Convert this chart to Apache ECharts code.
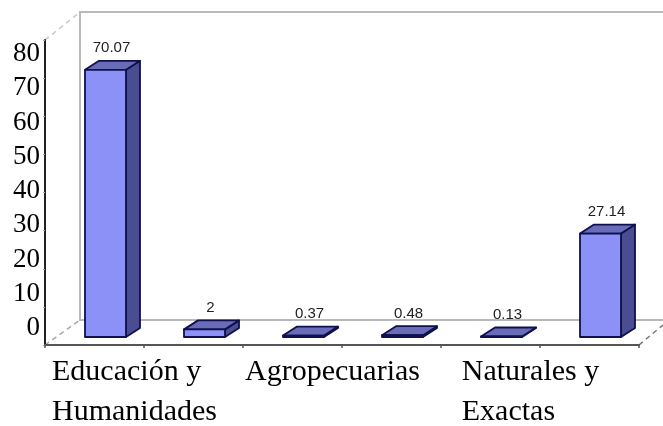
<!DOCTYPE html>
<html>
<head>
<meta charset="utf-8">
<style>html,body{margin:0;padding:0;background:#fff}#c{width:663px;height:426px}</style>
<script src="https://cdn.jsdelivr.net/npm/echarts@6/dist/echarts.min.js"></script>
</head>
<body>
<div id="c"></div>
<script>
const categories = ["Educación y\nHumanidades", "", "Agropecuarias", "", "Naturales y\nExactas", ""];
const values = [70.07, 2, 0.37, 0.48, 0.13, 27.14];
const valueLabels = ["70.07", "2", "0.37", "0.48", "0.13", "27.14"];
const tickLabels = [0, 10, 20, 30, 40, 50, 60, 70, 80];

const chart = echarts.init(document.getElementById('c'), null, {renderer: 'canvas'});
const FLOOR = [11, -8];   // bar set back from the front of the floor
const DEPTH = [14, -9];   // bar depth in the oblique projection
const BAR_W = 41;
const EDGE = '#10104f';

function poly(points, fill) {
  return {type: 'polygon', shape: {points}, style: {fill, stroke: EDGE, lineWidth: 1.8, lineJoin: 'round'}};
}
function renderBar(params, api) {
  const top = api.coord([api.value(0), api.value(1)]);
  const base = api.coord([api.value(0), 0]);
  const l = top[0] - BAR_W / 2 + FLOOR[0], r = l + BAR_W;
  const t = top[1] + FLOOR[1], b = base[1] + FLOOR[1];
  const dx = DEPTH[0], dy = DEPTH[1];
  return {type: 'group', children: [
    poly([[r, t], [r + dx, t + dy], [r + dx, b + dy], [r, b]], '#4a4d92'),
    poly([[l, t], [l + dx, t + dy], [r + dx, t + dy], [r, t]], '#696db8'),
    poly([[l, t], [r, t], [r, b], [l, b]], '#8b91f6'),
    {type: 'text', style: {
      text: valueLabels[params.dataIndex], x: (l + r) / 2 + dx / 2 - 1, y: t + dy - 5,
      align: 'center', verticalAlign: 'bottom',
      font: '15px "Liberation Sans", Arial, sans-serif', fill: '#222'
    }}
  ]};
}

const dashed = (x1, y1, x2, y2, color) => ({
  type: 'line', z: -1, shape: {x1, y1, x2, y2},
  style: {stroke: color, lineWidth: 1.5, lineDash: [5, 4]}
});

chart.setOption({
  animation: false,
  backgroundColor: '#fff',
  graphic: [
    dashed(45, 40, 80, 12, '#c8c8c8'),
    dashed(45, 345, 80, 320, '#a8a8a8'),
    dashed(639, 345, 663, 325, '#777')
  ],
  grid: [
    {left: 45, top: 40, width: 594, height: 305, outerBoundsMode: 'none'},
    {left: 45, top: 54, width: 594, height: 274, outerBoundsMode: 'none'},
    {show: true, left: 80, top: 12, width: 640, height: 308, borderColor: '#b9b9b9', borderWidth: 2, backgroundColor: 'transparent', outerBoundsMode: 'none'}
  ],
  xAxis: [
    {type: 'category', gridIndex: 0, data: categories,
      axisLine: {lineStyle: {color: '#555', width: 2}},
      axisTick: {show: true, length: 3, lineStyle: {color: '#555', width: 1.5}},
      axisLabel: {
        interval: 0, margin: 7, hideOverlap: false,
        color: '#000', fontFamily: '"Liberation Serif", "Times New Roman", serif', fontSize: 30, lineHeight: 40,
        verticalAlign: 'top', padding: [0, 0, 0, 80],
        formatter: v => v.split('\n').map(s => s ? '{l|' + s + '}' : '').join('\n'),
        rich: {l: {align: 'left', fontFamily: '"Liberation Serif", "Times New Roman", serif', fontSize: 30, lineHeight: 40, color: '#000'}}
      }},
    {type: 'value', gridIndex: 1, show: false},
    {type: 'value', gridIndex: 2, show: false}
  ],
  yAxis: [
    {type: 'value', gridIndex: 0, min: 0, max: 80, interval: 10,
      axisLine: {show: true, lineStyle: {color: '#222', width: 2}},
      axisTick: {show: true, length: 2, lineStyle: {color: '#aaa'}},
      axisLabel: {show: false}, splitLine: {show: false}},
    {type: 'value', gridIndex: 1, min: 0, max: 80, interval: 10,
      axisLine: {show: false}, axisTick: {show: false}, splitLine: {show: false},
      axisLabel: {
        formatter: v => tickLabels.includes(v) ? String(v) : '',
        margin: 5, color: '#000', fontFamily: '"Liberation Serif", "Times New Roman", serif', fontSize: 27
      }},
    {type: 'value', gridIndex: 2, show: false}
  ],
  series: [{
    type: 'custom', xAxisIndex: 0, yAxisIndex: 0, clip: false, silent: true,
    renderItem: renderBar,
    encode: {x: 0, y: 1},
    data: categories.map((c, i) => [i, values[i]])
  }]
});
</script>
</body>
</html>
